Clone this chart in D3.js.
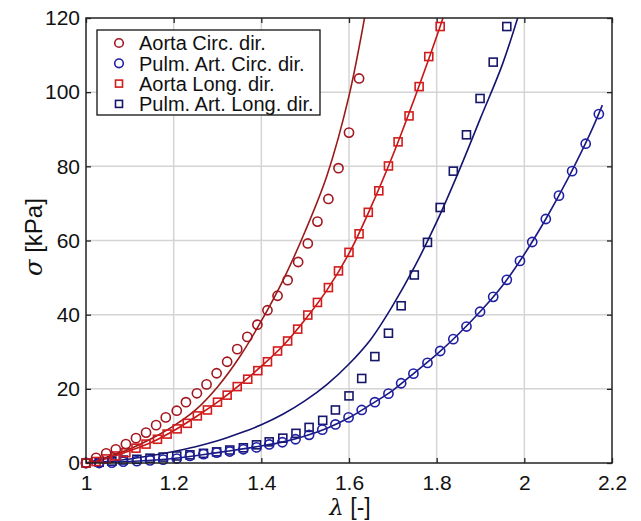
<!DOCTYPE html>
<html><head><meta charset="utf-8">
<script src="https://cdn.jsdelivr.net/npm/d3@7"></script>
<style>body{margin:0;background:#fff}svg{display:block;font-family:"Liberation Sans",Arial,sans-serif}</style>
</head><body><svg id="c" width="641" height="521"></svg>
<script>
// ---- data ----
const xTicks = [1, 1.2, 1.4, 1.6, 1.8, 2, 2.2];
const yTicks = [0, 20, 40, 60, 80, 100, 120];
const seriesNames = ["Aorta Circ. dir.", "Pulm. Art. Circ. dir.", "Aorta Long. dir.", "Pulm. Art. Long. dir."];

const aortaCircLam = [1.0,1.023,1.046,1.068,1.091,1.114,1.137,1.160,1.182,1.207,1.228,1.253,1.275,1.298,1.322,1.345,1.368,1.391,1.414,1.437,1.460,1.484,1.506,1.528,1.553,1.576,1.600,1.623];
const aortaCircSig = [0,1.4,2.6,3.7,5.1,6.7,8.2,10.2,12.3,14.1,16.4,18.8,21.2,24.2,27.3,30.7,34.0,37.3,41.2,45.1,49.3,54.2,59.2,65.1,71.2,79.5,89.1,103.7];

const pulmCircLam = [1.0,1.03,1.059,1.085,1.116,1.146,1.176,1.207,1.237,1.268,1.298,1.328,1.359,1.389,1.418,1.448,1.478,1.509,1.539,1.569,1.599,1.629,1.659,1.690,1.719,1.747,1.779,1.808,1.838,1.868,1.899,1.929,1.960,1.990,2.018,2.049,2.079,2.109,2.140,2.170];
const pulmCircSig = [0,0,0.1,0.35,0.5,0.7,0.9,1.2,1.9,2.4,2.8,3.1,3.7,4.2,5.0,5.6,6.4,7.6,9.0,10.4,12.3,14.3,16.4,18.7,21.5,24.1,27.0,30.2,33.4,36.8,40.8,44.8,49.4,54.5,59.6,65.8,72.1,78.7,86.1,94.1];

const aortaLongLam = [1.0,1.023,1.046,1.068,1.091,1.114,1.137,1.163,1.185,1.208,1.231,1.254,1.277,1.300,1.322,1.345,1.369,1.392,1.414,1.437,1.460,1.483,1.506,1.528,1.553,1.576,1.600,1.623,1.644,1.668,1.690,1.712,1.737,1.760,1.782,1.808];
const aortaLongSig = [0,0.4,1.1,1.9,2.8,4.0,5.1,6.4,7.8,9.2,10.7,12.7,14.3,16.4,18.3,20.6,22.6,24.9,27.3,30.2,32.9,36.1,39.9,43.3,47.3,51.8,56.8,61.8,67.6,73.4,80.1,86.6,93.6,101.5,109.6,117.7];

const pulmLongLam = [1.0,1.03,1.059,1.085,1.116,1.146,1.176,1.207,1.237,1.268,1.298,1.328,1.359,1.389,1.418,1.449,1.479,1.509,1.540,1.569,1.600,1.629,1.659,1.690,1.719,1.749,1.779,1.808,1.838,1.868,1.899,1.929,1.960];
const pulmLongSig = [0,0.2,0.5,0.8,1.0,1.3,1.6,1.9,2.2,2.6,3.0,3.5,4.1,4.9,5.7,6.7,8.0,9.6,11.5,14.3,18.1,22.8,28.7,35.0,42.4,50.7,59.5,68.9,78.7,88.5,98.3,108.1,117.7];

// fitted model curves
const aortaCircFitLam = [1.0,1.05,1.1,1.15,1.2,1.25,1.3,1.35,1.4,1.45,1.5,1.55,1.6,1.64];
const aortaCircFitSig = [0,1.7,3.8,6.6,10.0,14.3,20.5,28.5,38.3,49.4,62.5,77.6,99,123];
const pulmCircFitLam = [1.0,1.1,1.2,1.3,1.4,1.45,1.5,1.55,1.6,1.65,1.7,1.75,1.8,1.85,1.9,1.95,2.0,2.05,2.1,2.15,2.178];
const pulmCircFitSig = [0,0.4,1.2,2.8,4.6,5.7,7.3,9.4,12.2,15.8,19.6,24.4,29.3,34.8,40.9,47.8,56.3,66.0,76.8,88.8,96.5];
const aortaLongFitLam = [1.0,1.05,1.1,1.15,1.2,1.25,1.3,1.35,1.4,1.45,1.5,1.55,1.6,1.65,1.7,1.75,1.8,1.82];
const aortaLongFitSig = [0,1.3,3.3,5.6,8.7,12.4,16.4,21.0,26.1,31.7,38.7,46.7,56.5,69,83,98.5,115,122];
const pulmLongFitLam = [1.0,1.05,1.1,1.15,1.2,1.25,1.3,1.35,1.4,1.45,1.5,1.55,1.6,1.65,1.7,1.75,1.8,1.85,1.9,1.95,1.99];
const pulmLongFitSig = [0,0.4,1.1,2.0,3.1,4.4,6.0,8.0,10.3,13.2,16.8,21.2,26.7,33.4,42.5,53,65,78.5,93,107.5,122];

// ---- layout ----
const L = 86, R = 612, T = 18, B = 463;
const svg = d3.select("#c");
const x = d3.scaleLinear().domain([1, 2.2]).range([L, R]);
const y = d3.scaleLinear().domain([0, 120]).range([B, T]);

// grid
svg.append("g").selectAll("line").data(xTicks.slice(1, -1)).join("line")
  .attr("x1", d => x(d)).attr("x2", d => x(d)).attr("y1", T).attr("y2", B)
  .attr("stroke", "#d4d4d4").attr("stroke-width", 1.5);
svg.append("g").selectAll("line").data(yTicks.slice(1, -1)).join("line")
  .attr("y1", d => y(d)).attr("y2", d => y(d)).attr("x1", L).attr("x2", R)
  .attr("stroke", "#d4d4d4").attr("stroke-width", 1.5);

// axes with inward ticks
const fs = "21px";
const ax = svg.append("g").attr("transform", `translate(0,${B})`)
  .call(d3.axisBottom(x).tickValues(xTicks).tickSize(-5).tickPadding(12).tickFormat(d3.format("~g")));
const ay = svg.append("g").attr("transform", `translate(${L},0)`)
  .call(d3.axisLeft(y).tickValues(yTicks).tickSize(-5).tickPadding(6));
const axT = svg.append("g").attr("transform", `translate(0,${T})`)
  .call(d3.axisTop(x).tickValues(xTicks).tickSize(-5).tickFormat(""));
const ayR = svg.append("g").attr("transform", `translate(${R},0)`)
  .call(d3.axisRight(y).tickValues(yTicks).tickSize(-5).tickFormat(""));
[ax, ay, axT, ayR].forEach(g => {
  g.select(".domain").remove();
  g.selectAll("line").attr("stroke", "#222").attr("stroke-width", 1.3);
  g.selectAll("text").attr("font-size", fs).attr("fill", "#111").attr("font-family", "Liberation Sans, Arial, sans-serif");
});
ax.selectAll("text").attr("dy", "0.71em");

// clip
svg.append("clipPath").attr("id", "clip").append("rect").attr("x", L).attr("y", T).attr("width", R - L).attr("height", B - T);

const plot = svg.append("g").attr("clip-path", "url(#clip)");
const line = d3.line().x(d => x(d[0])).y(d => y(d[1])).curve(d3.curveCatmullRom);
const zip = (a, b) => a.map((v, i) => [v, b[i]]);

const cols = {
  aortaCirc: "#a3161f", aortaCircLine: "#9a1a1a",
  pulmCirc: "#1f1fa6", pulmCircLine: "#1a1a80",
  aortaLong: "#d21c1c", aortaLongLine: "#c81414",
  pulmLong: "#16166a", pulmLongLine: "#141470"
};

[[aortaCircFitLam, aortaCircFitSig, cols.aortaCircLine],
 [pulmCircFitLam, pulmCircFitSig, cols.pulmCircLine],
 [aortaLongFitLam, aortaLongFitSig, cols.aortaLongLine],
 [pulmLongFitLam, pulmLongFitSig, cols.pulmLongLine]].forEach(([a, b, c]) => {
  plot.append("path").attr("d", line(zip(a, b))).attr("fill", "none").attr("stroke", c).attr("stroke-width", 1.6);
});

function circles(g, data, c) {
  g.append("g").selectAll("circle").data(data).join("circle")
    .attr("cx", d => x(d[0])).attr("cy", d => y(d[1])).attr("r", 4.6)
    .attr("fill", "none").attr("stroke", c).attr("stroke-width", 1.6);
}
function squares(g, data, c) {
  g.append("g").selectAll("rect").data(data).join("rect")
    .attr("x", d => x(d[0]) - 4).attr("y", d => y(d[1]) - 4).attr("width", 8).attr("height", 8)
    .attr("fill", "none").attr("stroke", c).attr("stroke-width", 1.6);
}
const mk = svg.append("g");
squares(mk, zip(pulmLongLam, pulmLongSig), cols.pulmLong);
circles(mk, zip(pulmCircLam, pulmCircSig), cols.pulmCirc);
squares(mk, zip(aortaLongLam, aortaLongSig), cols.aortaLong);
circles(mk, zip(aortaCircLam, aortaCircSig), cols.aortaCirc);

// frame
svg.append("rect").attr("x", L).attr("y", T).attr("width", R - L).attr("height", B - T)
  .attr("fill", "none").attr("stroke", "#222").attr("stroke-width", 1.5);

// axis titles
svg.append("text").attr("x", 350).attr("y", 515).attr("text-anchor", "middle")
  .attr("font-size", "23px").attr("fill", "#111")
  .html('<tspan font-style="italic" font-family="DejaVu Serif, serif">λ</tspan> [-]');
svg.append("text").attr("transform", "translate(42,237) rotate(-90)").attr("text-anchor", "middle")
  .attr("font-size", "24px").attr("fill", "#111")
  .html('<tspan font-style="italic" font-family="DejaVu Serif, serif">σ</tspan> [kPa]');

// legend
const lg = svg.append("g");
lg.append("rect").attr("x", 97).attr("y", 30).attr("width", 223).attr("height", 85)
  .attr("fill", "#fff").attr("stroke", "#111").attr("stroke-width", 1.3);
const legCols = [cols.aortaCirc, cols.pulmCirc, cols.aortaLong, cols.pulmLong];
const legShape = ["c", "c", "s", "s"];
seriesNames.forEach((n, i) => {
  const yy = 43 + i * 20.3;
  if (legShape[i] === "c")
    lg.append("circle").attr("cx", 119).attr("cy", yy).attr("r", 4.3).attr("fill", "none").attr("stroke", legCols[i]).attr("stroke-width", 1.6);
  else
    lg.append("rect").attr("x", 115.5).attr("y", yy - 3.5).attr("width", 7).attr("height", 7).attr("fill", "none").attr("stroke", legCols[i]).attr("stroke-width", 1.6);
  lg.append("text").attr("x", 139).attr("y", yy).attr("dy", "0.36em").attr("font-size", "20px").attr("fill", "#111").text(n);
});
</script></body></html>
